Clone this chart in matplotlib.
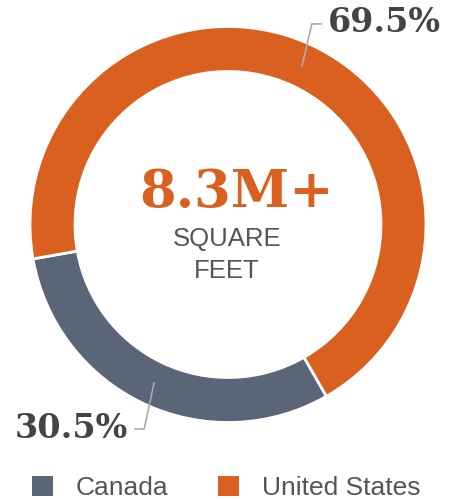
import numpy as np
import matplotlib.pyplot as plt

regions = ["Canada", "United States"]
shares = [30.5, 69.5]
colors = ["#5a6577", "#d9601f"]
headline = "8.3M+"
subline = "SQUARE\nFEET"

fig = plt.figure(figsize=(4.51, 5.0), dpi=100)
ax = fig.add_axes([0, 0, 1, 1])

cx, cy, r = 228, 275.5, 198
wedges, _ = ax.pie(shares, colors=colors, startangle=190, counterclock=True,
                   center=(cx, cy), radius=r,
                   wedgeprops=dict(width=45, edgecolor="white", linewidth=2))
ax.set_xlim(0, 451)
ax.set_ylim(0, 500)
ax.set_aspect("equal")
ax.axis("off")

# percentage labels with elbow leader lines
serif = "DejaVu Serif"
for w, v in zip(wedges, shares):
    mid = np.deg2rad((w.theta1 + w.theta2) / 2)
    sx, sy = cx + 174 * np.cos(mid), cy + 174 * np.sin(mid)
    up = np.sin(mid) > 0
    side = 1 if np.cos(mid) > 0 else -1
    ex, ey = sx + 10 * side, sy + (43 if up else -47)
    hx = ex + 10 * side
    ax.plot([sx, ex, hx], [sy, ey, ey], color="#aaaaaa", lw=1.2, solid_capstyle="butt")
    ax.text(hx + 6 * side, ey + 1, f"{v}%", ha="left" if side > 0 else "right",
            va="center", fontsize=24, fontweight="bold", family=serif, color="#444444")

ax.text(236, 307.5, headline, ha="center", va="center", fontsize=38,
        fontweight="bold", family=serif, color="#d9601f")
ax.text(227, 245, subline, ha="center", va="center", fontsize=18.5,
        family="Liberation Sans", color="#555555", linespacing=1.45)

leg = fig.legend(wedges, regions, loc="center left", bbox_to_anchor=(32 / 451, 1 - 488 / 500),
                 ncol=2, frameon=False, handlelength=0.8, handleheight=0.8,
                 handletextpad=0.85, columnspacing=1.9, borderpad=0, borderaxespad=0,
                 prop={"family": "Liberation Sans", "size": 19})
for t in leg.get_texts():
    t.set_color("#555555")
for h in leg.legend_handles:
    h.set_edgecolor("none")

fig.savefig("out.png", dpi=100)
